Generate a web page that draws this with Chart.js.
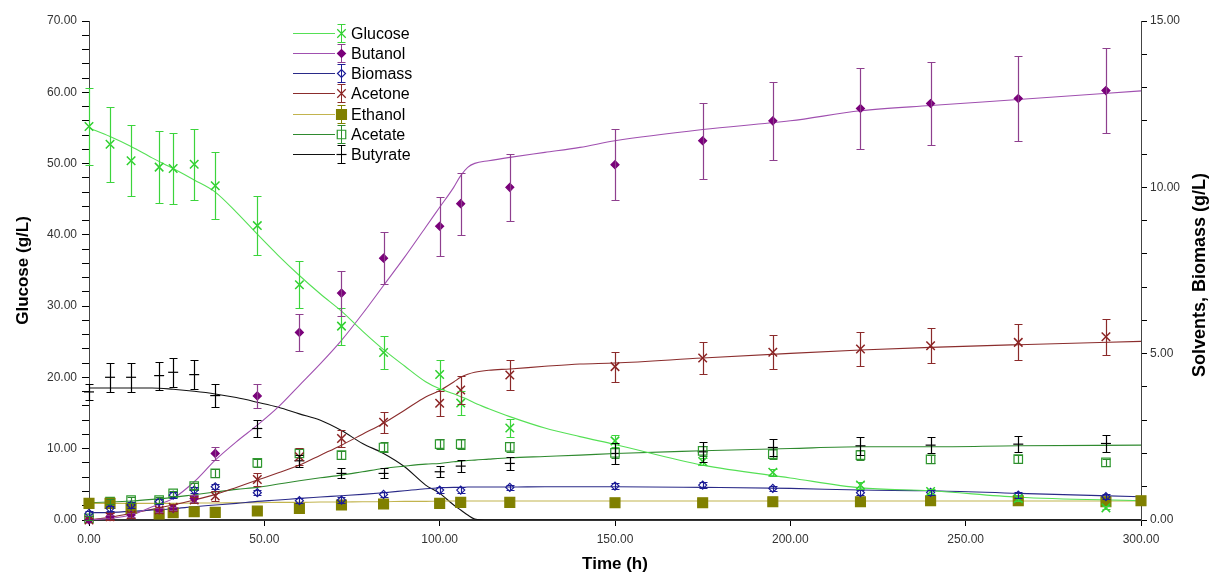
<!DOCTYPE html>
<html>
<head>
<meta charset="utf-8">
<script src="https://cdn.jsdelivr.net/npm/chart.js@4.4.1/dist/chart.umd.min.js"></script>
<style>
  body { margin: 0; background: #fff; }
  canvas { display: block; }
</style>
</head>
<body>
<canvas id="fermChart" width="1212" height="575"></canvas>
<script>
// sampling times (h)
var times = [0, 6, 12, 20, 24, 30, 36, 48, 60, 72, 84, 100, 106, 120, 150, 175, 195, 220, 240, 265, 290];
var ethanolTimes = [0, 6, 12, 20, 24, 30, 36, 48, 60, 72, 84, 100, 106, 120, 150, 175, 195, 220, 240, 265, 290, 300];

// measured values, glucose on left axis, the rest on right axis (g/L)
var glucose    = [55.2, 52.7, 50.4, 49.5, 49.3, 49.9, 46.9, 41.3, 33.0, 27.2, 23.5, 20.4, 16.4, 12.9, 11.1, 8.2, 6.7, 4.9, 4.0, 3.0, 1.7];
var glucoseErr = [5.4, 5.3, 5.0, 5.0, 5.0, 5.0, 4.7, 4.1, 3.3, 2.6, 2.3, 2.0, 1.7, 1.3, 0.8, 0.5, 0.5, 0.5, 0.4, 0.3, 0.2];
var butanol    = [0.0, 0.1, 0.15, 0.3, 0.35, 0.65, 2.0, 3.73, 5.64, 6.82, 7.87, 8.83, 9.51, 10.0, 10.68, 11.4, 12.0, 12.37, 12.52, 12.67, 12.91];
var butanolErr = [0.05, 0.05, 0.05, 0.05, 0.05, 0.1, 0.2, 0.37, 0.55, 0.68, 0.79, 0.88, 0.93, 1.0, 1.07, 1.14, 1.18, 1.22, 1.26, 1.27, 1.29];
var biomass    = [0.2, 0.35, 0.45, 0.55, 0.75, 0.9, 1.0, 0.82, 0.58, 0.6, 0.77, 0.9, 0.9, 0.98, 1.02, 1.05, 0.95, 0.82, 0.83, 0.75, 0.7];
var biomassErr = [0.08, 0.08, 0.08, 0.08, 0.08, 0.08, 0.08, 0.08, 0.08, 0.08, 0.08, 0.08, 0.08, 0.08, 0.08, 0.08, 0.08, 0.08, 0.08, 0.08, 0.08];
var acetone    = [0.0, 0.1, 0.15, 0.3, 0.38, 0.6, 0.72, 1.22, 1.9, 2.45, 2.94, 3.51, 3.91, 4.36, 4.61, 4.87, 5.04, 5.14, 5.24, 5.34, 5.51];
var acetoneErr = [0.05, 0.1, 0.1, 0.1, 0.1, 0.1, 0.15, 0.2, 0.25, 0.27, 0.31, 0.37, 0.43, 0.44, 0.45, 0.49, 0.51, 0.52, 0.52, 0.54, 0.54];
var ethanol    = [0.5, 0.5, 0.35, 0.18, 0.22, 0.25, 0.23, 0.27, 0.35, 0.45, 0.48, 0.5, 0.53, 0.53, 0.52, 0.52, 0.55, 0.55, 0.58, 0.58, 0.55, 0.58];
var acetate    = [0.05, 0.55, 0.6, 0.6, 0.8, 1.02, 1.4, 1.72, 2.0, 1.95, 2.18, 2.28, 2.28, 2.2, 2.02, 2.08, 1.98, 1.95, 1.82, 1.83, 1.73];
var acetateErr = [0.08, 0.08, 0.08, 0.08, 0.08, 0.1, 0.12, 0.12, 0.12, 0.12, 0.15, 0.15, 0.15, 0.15, 0.15, 0.15, 0.15, 0.15, 0.12, 0.12, 0.1];
var butyrate   = [3.85, 4.29, 4.29, 4.34, 4.44, 4.37, 3.74, 2.75, 1.78, 1.4, 1.4, 1.45, 1.62, 1.7, 2.0, 2.05, 2.18, 2.23, 2.25, 2.28, 2.3];
var butyrateErr = [0.25, 0.43, 0.43, 0.42, 0.44, 0.44, 0.35, 0.26, 0.18, 0.15, 0.15, 0.17, 0.17, 0.19, 0.31, 0.3, 0.26, 0.27, 0.24, 0.25, 0.26];

// model curves
var modelTime     = [0, 6, 12, 18, 24, 30, 36, 42, 48, 54, 60, 66, 72, 78, 84, 90, 96, 100, 104, 106, 108, 110, 114, 120, 130, 140, 150, 175, 200, 220, 240, 265, 300];
var glucoseModel  = [55.0, 53.8, 52.4, 50.8, 49.3, 47.7, 46.0, 43.2, 40.1, 37.1, 34.3, 31.7, 29.3, 26.5, 23.9, 21.6, 19.4, 18.4, 17.7, 17.3, 16.9, 16.4, 15.6, 14.5, 12.9, 11.7, 10.6, 7.7, 5.9, 4.5, 4.1, 3.2, 2.7];
var butanolModel  = [0.0, 0.05, 0.15, 0.4, 0.65, 1.15, 1.8, 2.35, 2.85, 3.4, 4.05, 4.7, 5.4, 6.2, 7.05, 7.9, 8.8, 9.4, 10.0, 10.35, 10.6, 10.72, 10.8, 10.9, 11.05, 11.2, 11.4, 11.74, 12.0, 12.3, 12.46, 12.64, 12.9];
var biomassModel  = [0.22, 0.23, 0.26, 0.3, 0.34, 0.4, 0.45, 0.5, 0.56, 0.6, 0.65, 0.69, 0.73, 0.77, 0.82, 0.88, 0.94, 0.97, 0.98, 0.98, 0.99, 0.99, 0.99, 0.99, 1.0, 1.0, 1.0, 0.98, 0.95, 0.9, 0.88, 0.8, 0.7];
var acetoneModel  = [0.0, 0.08, 0.2, 0.32, 0.45, 0.6, 0.77, 0.98, 1.2, 1.42, 1.65, 1.95, 2.25, 2.58, 2.91, 3.3, 3.7, 3.89, 4.15, 4.29, 4.38, 4.44, 4.5, 4.54, 4.62, 4.69, 4.72, 4.87, 5.01, 5.11, 5.19, 5.27, 5.37];
var ethanolModel  = [0.5, 0.5, 0.5, 0.5, 0.5, 0.51, 0.51, 0.52, 0.52, 0.53, 0.53, 0.54, 0.54, 0.55, 0.55, 0.56, 0.56, 0.57, 0.57, 0.57, 0.57, 0.57, 0.57, 0.57, 0.57, 0.57, 0.57, 0.57, 0.57, 0.57, 0.57, 0.57, 0.57];
var acetateModel  = [0.52, 0.54, 0.57, 0.62, 0.68, 0.76, 0.84, 0.92, 0.98, 1.08, 1.18, 1.27, 1.35, 1.45, 1.55, 1.62, 1.68, 1.7, 1.75, 1.77, 1.79, 1.8, 1.83, 1.87, 1.91, 1.95, 2.0, 2.08, 2.15, 2.2, 2.2, 2.23, 2.25];
var butyrateModel = [3.97, 3.97, 3.97, 3.97, 3.93, 3.87, 3.79, 3.68, 3.54, 3.39, 3.19, 3.0, 2.69, 2.3, 2.0, 1.6, 1.05, 0.8, 0.45, 0.3, 0.15, 0.03, 0, 0, 0, 0, 0, 0, 0, 0, 0, 0, 0];

function pts(xs, ys) {
  return xs.map(function (x, i) { return { x: x, y: ys[i] }; });
}

function measured(label, xs, ys, errs, axis, color, barColor, lineColor, style, radius, fill) {
  return {
    label: label,
    measured: true,
    data: pts(xs, ys),
    errors: errs,
    errorColor: barColor,
    modelColor: lineColor,
    yAxisID: axis,
    showLine: false,
    pointStyle: style,
    pointRadius: radius,
    pointBorderWidth: style === "crossRot" ? 1.5 : 1.2,
    pointBorderColor: color,
    pointBackgroundColor: fill,
    borderColor: color,
    backgroundColor: fill,
    order: 0,
    clip: false,
  };
}

function model(ys, axis, color) {
  return {
    data: pts(modelTime, ys),
    yAxisID: axis,
    showLine: true,
    pointRadius: 0,
    borderWidth: 1.1,
    borderColor: color,
    cubicInterpolationMode: "monotone",
    order: 1,
  };
}

// error bars drawn from the scales
var errorBars = {
  id: "errorBars",
  afterDatasetsDraw: function (chart) {
    var ctx = chart.ctx;
    var xs = chart.scales.x;
    chart.data.datasets.forEach(function (ds) {
      if (!ds.errors) return;
      var ys = chart.scales[ds.yAxisID];
      ctx.save();
      ctx.strokeStyle = ds.errorColor;
      ctx.lineWidth = 1.2;
      ds.data.forEach(function (p, j) {
        var e = ds.errors[j];
        if (!e) return;
        var x = Math.round(xs.getPixelForValue(p.x)) + 0.5;
        var top = Math.round(ys.getPixelForValue(p.y + e)) + 0.5;
        var bot = Math.round(ys.getPixelForValue(Math.max(p.y - e, 0))) + 0.5;
        ctx.beginPath();
        ctx.moveTo(x, top); ctx.lineTo(x, bot);
        ctx.moveTo(x - 4, top); ctx.lineTo(x + 4, top);
        ctx.moveTo(x - 4, bot); ctx.lineTo(x + 4, bot);
        ctx.stroke();
      });
      ctx.restore();
    });
  },
};

// legend (line + marker with bar) and right axis title
var sideLegend = {
  id: "sideLegend",
  afterDraw: function (chart) {
    var ctx = chart.ctx;
    var rows = chart.data.datasets.filter(function (d) { return d.measured; });
    ctx.save();
    rows.forEach(function (ds, k) {
      var y = Math.round(32.5 + k * 20.25) + 0.5;
      ctx.strokeStyle = ds.modelColor;
      ctx.lineWidth = 1;
      ctx.beginPath();
      ctx.moveTo(293, y); ctx.lineTo(335, y);
      ctx.stroke();
      ctx.strokeStyle = ds.errorColor;
      ctx.beginPath();
      ctx.moveTo(341.5, y - 9); ctx.lineTo(341.5, y + 9);
      ctx.moveTo(337.5, y - 9); ctx.lineTo(345.5, y - 9);
      ctx.moveTo(337.5, y + 9); ctx.lineTo(345.5, y + 9);
      ctx.stroke();
      ctx.fillStyle = ds.backgroundColor;
      ctx.strokeStyle = ds.borderColor;
      ctx.lineWidth = 1.2;
      Chart.helpers.drawPoint(ctx, { pointStyle: ds.pointStyle, radius: ds.pointRadius, rotation: 0, borderWidth: 1.2 }, 341.5, y);
      ctx.fillStyle = "#000";
      ctx.font = "16px 'Liberation Sans', Arial, sans-serif";
      ctx.textBaseline = "middle";
      ctx.fillText(ds.label, 351, y + 1);
    });
    ctx.translate(1200, 275);
    ctx.rotate(-Math.PI / 2);
    ctx.textAlign = "center";
    ctx.textBaseline = "middle";
    ctx.font = "bold 18px 'Liberation Sans', Arial, sans-serif";
    ctx.fillText("Solvents, Biomass (g/L)", 0, 0);
    ctx.restore();
  },
};

Chart.defaults.font.family = "'Liberation Sans', Arial, sans-serif";

var ctx = document.getElementById("fermChart").getContext("2d");
var fermChart = new Chart(ctx, {
  type: "scatter",
  data: {
    datasets: [
      measured("Glucose", times, glucose, glucoseErr, "y", "#2fd02f", "#3cd43c", "#55e055", "crossRot", 6, "rgba(0,0,0,0)"),
      measured("Butanol", times, butanol, butanolErr, "y1", "#7a007a", "#8e3f8e", "#a050b0", "rectRot", 4, "#7a007a"),
      measured("Biomass", times, biomass, biomassErr, "y1", "#1c1c96", "#1c1c96", "#2a2a88", "rectRot", 4, "rgba(0,0,0,0)"),
      measured("Acetone", times, acetone, acetoneErr, "y1", "#8b2323", "#8b2a2a", "#8b2d2d", "crossRot", 6, "rgba(0,0,0,0)"),
      measured("Ethanol", ethanolTimes, ethanol, null, "y1", "#808000", "#808000", "#c2b44e", "rect", 7, "#808000"),
      measured("Acetate", times, acetate, acetateErr, "y1", "#2e9a2e", "#2e8a2e", "#2f8a2f", "rect", 6, "rgba(0,0,0,0)"),
      measured("Butyrate", times, butyrate, butyrateErr, "y1", "#000", "#000", "#111", "line", 5, "#000"),
      model(glucoseModel, "y", "#55e055"),
      model(butanolModel, "y1", "#a050b0"),
      model(biomassModel, "y1", "#2a2a88"),
      model(acetoneModel, "y1", "#8b2d2d"),
      model(ethanolModel, "y1", "#c2b44e"),
      model(acetateModel, "y1", "#2f8a2f"),
      model(butyrateModel, "y1", "#111"),
    ],
  },
  options: {
    responsive: false,
    animation: false,
    layout: { padding: { top: 21, left: 0, right: 0, bottom: 0 } },
    plugins: {
      legend: { display: false },
      tooltip: { enabled: false },
    },
    scales: {
      x: {
        type: "linear",
        min: 0,
        max: 300,
        ticks: {
          stepSize: 50,
          padding: 6,
          color: "#333",
          font: { size: 12 },
          callback: function (v) { return v.toFixed(2); },
        },
        grid: { drawOnChartArea: false, tickLength: 6, color: "#000" },
        border: { color: "#333", width: 2 },
        title: { display: true, text: "Time (h)", color: "#000", font: { size: 17, weight: "bold" }, padding: { top: 0, bottom: 0 } },
        afterFit: function (s) { s.height = 55; },
      },
      y: {
        position: "left",
        min: 0,
        max: 70,
        ticks: {
          stepSize: 2,
          autoSkip: false,
          padding: 5,
          color: "#333",
          font: { size: 12 },
          callback: function (v) { return v % 10 === 0 ? v.toFixed(2) : ""; },
        },
        grid: { drawOnChartArea: false, tickLength: 7, color: "#000" },
        border: { color: "#444", width: 1 },
        title: { display: true, text: "Glucose (g/L)", color: "#000", font: { size: 17, weight: "bold" }, padding: { top: 13, bottom: 0 } },
        afterFit: function (s) { s.width = 89; },
      },
      y1: {
        position: "right",
        min: 0,
        max: 15,
        ticks: {
          stepSize: 1,
          autoSkip: false,
          padding: 3,
          color: "#333",
          font: { size: 12 },
          callback: function (v) { return v % 5 === 0 ? v.toFixed(2) : ""; },
        },
        grid: { drawOnChartArea: false, tickLength: 6, color: "#000" },
        border: { color: "#444", width: 1 },
        afterFit: function (s) { s.width = 71; },
      },
    },
  },
  plugins: [errorBars, sideLegend],
});
</script>
</body>
</html>
